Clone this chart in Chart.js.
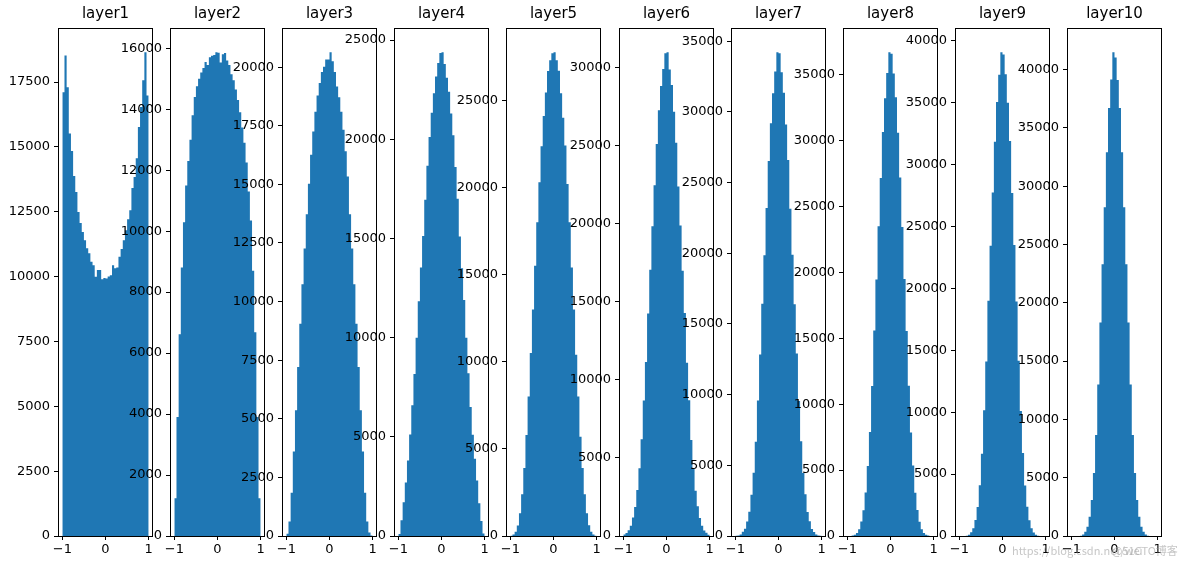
<!DOCTYPE html>
<html>
<head>
<meta charset="utf-8">
<title>layers</title>
<script src="https://cdn.jsdelivr.net/npm/chart.js@4.4.1/dist/chart.umd.min.js"></script>
<style>
  html, body { margin: 0; padding: 0; background: #fff; }
  #fig { position: relative; width: 1184px; height: 564px; overflow: hidden; background: #fff; }
  #fig canvas { position: absolute; top: 0; }
  .wm { position: absolute; top: 542px; font-family: 'Noto Sans CJK SC', 'DejaVu Sans', sans-serif; font-size: 11px; color: rgba(160, 160, 160, 0.6); white-space: nowrap; }
</style>
</head>
<body>
<div id="fig">
  <span class="wm" style="left: 1012px;">https://blog.csdn.net/wei</span>
  <span class="wm" style="left: 1112px;">@51CTO博客</span>
</div>
<script>
// histogram bins: 40 bins over [-1, 1]
const binStart = -1;
const binWidth = 0.05;
const binCount = 40;
const xTicks = [-1, 0, 1];

const layerTitles = ['layer1', 'layer2', 'layer3', 'layer4', 'layer5',
                     'layer6', 'layer7', 'layer8', 'layer9', 'layer10'];

// counts per bin
const layer1 = [17110, 18520, 17300, 15520, 14840, 13880, 13260, 12490, 12070, 11720,
                11400, 11090, 10900, 10570, 10440, 9990, 10250, 10250, 9900, 9950,
                9930, 10000, 10050, 10440, 10320, 10350, 10760, 11060, 11400, 11790,
                12210, 12560, 13410, 13840, 14560, 15770, 16540, 17570, 18650, 16980];
const layer2 = [1240, 3900, 6620, 8810, 10290, 11500, 12300, 13000, 13800, 14400,
                14750, 15000, 15200, 15350, 15550, 15450, 15700, 15750, 15780, 15870,
                15850, 15530, 15800, 15840, 15600, 15450, 15150, 14950, 14650, 14300,
                13900, 13400, 12900, 12250, 11300, 10350, 8700, 6680, 3900, 1240];
const layer3 = [100, 614, 1840, 3600, 5370, 7210, 9050, 10740, 12270, 13730,
                15030, 16260, 17260, 18100, 18790, 19330, 19790, 20020, 20330, 20330,
                20640, 20250, 19790, 19180, 18720, 18100, 17330, 16410, 15340, 13730,
                12270, 10740, 9050, 7210, 5370, 3600, 1840, 614, 150, 20];
const layer4 = [100, 800, 1700, 2700, 3800, 5120, 6590, 8170, 10000, 11830,
                13540, 15120, 16950, 18660, 20120, 21340, 22320, 23170, 23850, 24350,
                24390, 23800, 23100, 22400, 21300, 20200, 18600, 17000, 15100, 13500,
                11900, 10000, 8200, 6500, 5100, 3900, 2800, 1650, 750, 120];
const layer5 = [20, 80, 250, 600, 1300, 2400, 3900, 5800, 8000, 10500,
                13000, 15500, 18000, 20300, 22370, 24100, 25440, 26680, 27300, 27700,
                27760, 27300, 26700, 25400, 24000, 22400, 20200, 18000, 15400, 13000,
                10400, 8000, 5700, 3900, 2400, 1300, 620, 240, 80, 20];
const layer6 = [90, 200, 370, 650, 1180, 1860, 2950, 4340, 6200, 8680,
                11160, 14260, 17060, 19850, 22480, 25120, 27290, 28840, 29930, 30950,
                31010, 29900, 28900, 27200, 25200, 22400, 19900, 17000, 14300, 11100,
                8700, 6150, 4350, 2900, 1900, 1150, 660, 360, 210, 80];
const layer7 = [10, 30, 100, 300, 510, 1030, 1710, 2910, 4480, 6670,
                9580, 12830, 16430, 19850, 23200, 26520, 29190, 31310, 32850, 34220,
                34150, 32800, 31350, 29100, 26600, 23150, 19900, 16400, 12900, 9550,
                6700, 4450, 2950, 1700, 1050, 500, 290, 110, 30, 10];
const layer8 = [0, 0, 30, 100, 220, 510, 1100, 1950, 3300, 5320,
                7890, 11380, 15600, 19460, 23500, 27160, 30650, 33220, 35130, 36710,
                36600, 35100, 33300, 30600, 27200, 23450, 19500, 15550, 11400, 7850,
                5350, 3280, 1970, 1080, 520, 230, 90, 30, 0, 0];
const layer9 = [0, 0, 0, 30, 100, 300, 620, 1300, 2350, 4100,
                6650, 10150, 14100, 19000, 23450, 27750, 31850, 35050, 37250, 39080,
                38900, 37300, 35000, 31900, 27700, 23500, 18950, 14150, 10100, 6700,
                4080, 2370, 1280, 630, 290, 110, 30, 0, 0, 0];
const layer10 = [0, 0, 0, 5, 30, 120, 370, 800, 1660, 3090,
                 5400, 8670, 13000, 18300, 23300, 28200, 32900, 36700, 39140, 41490,
                 41030, 39100, 36700, 32900, 28200, 23300, 18300, 13000, 8670, 5400,
                 3090, 1660, 800, 370, 120, 30, 5, 0, 0, 0];

const layerCounts = [layer1, layer2, layer3, layer4, layer5, layer6, layer7, layer8, layer9, layer10];
const yTickSteps = [2500, 2000, 2500, 5000, 5000, 5000, 5000, 5000, 5000, 5000];

// subplot geometry in px
const axLeft0 = 58;
const axGap = 112.1;
const axWidth = 95;
const yAxisWidth = 56;
const figHeight = 564;

Chart.defaults.font.family = "'DejaVu Sans', sans-serif";
Chart.defaults.font.size = 13;
Chart.defaults.color = '#000';

// matplotlib-like box around each axes
const framePlugin = {
    id: 'frame',
    afterDraw(chart) {
        const { ctx, chartArea: a } = chart;
        ctx.save();
        ctx.strokeStyle = '#000';
        ctx.lineWidth = 1;
        ctx.strokeRect(a.left + 0.5, a.top + 0.5, a.right - a.left - 1, a.bottom - a.top);
        ctx.restore();
    }
};

function histPoints(counts) {
    const pts = counts.map((c, k) => ({ x: binStart + k * binWidth, y: c }));
    // closing edge of the last bin
    pts.push({ x: binStart + binCount * binWidth, y: counts[counts.length - 1] });
    return pts;
}

function fmtTick(v) {
    return v < 0 ? '\u2212' + Math.abs(v) : String(v);
}

const fig = document.getElementById('fig');
const wmNodes = Array.from(fig.querySelectorAll('.wm'));

layerCounts.forEach((counts, i) => {
    const canvas = document.createElement('canvas');
    const w = yAxisWidth + axWidth;
    canvas.width = w;
    canvas.height = figHeight;
    canvas.style.width = w + 'px';
    canvas.style.height = figHeight + 'px';
    canvas.style.left = (Math.round(axLeft0 + i * axGap) - yAxisWidth) + 'px';
    fig.insertBefore(canvas, wmNodes[0]);

    const yMax = Math.max(...counts) * 1.05;
    const step = yTickSteps[i];

    new Chart(canvas, {
        type: 'line',
        data: {
            datasets: [{
                data: histPoints(counts),
                stepped: true,
                fill: 'origin',
                backgroundColor: '#1f77b4',
                borderColor: 'rgba(0,0,0,0)',
                borderWidth: 0,
                pointRadius: 0,
                tension: 0
            }]
        },
        options: {
            responsive: false,
            animation: false,
            devicePixelRatio: 1,
            layout: { padding: 0 },
            plugins: {
                legend: { display: false },
                tooltip: { enabled: false },
                title: {
                    display: true,
                    fullSize: false,   // centre over the axes, not the canvas
                    text: layerTitles[i],
                    color: '#000',
                    font: { size: 15, weight: 'normal', lineHeight: 1.2 },
                    padding: { top: 5, bottom: 5 }
                }
            },
            scales: {
                x: {
                    type: 'linear',
                    min: -1.1,
                    max: 1.1,
                    border: { display: false },
                    grid: { display: true, drawOnChartArea: false, drawTicks: true, tickLength: 4, color: '#000' },
                    ticks: { padding: 2, maxRotation: 0, callback: v => fmtTick(v) },
                    afterBuildTicks: s => { s.ticks = xTicks.map(v => ({ value: v })); },
                    afterFit: s => { s.height = 28; s.paddingLeft = 0; s.paddingRight = 0; }
                },
                y: {
                    min: 0,
                    max: yMax,
                    border: { display: false },
                    grid: { display: true, drawOnChartArea: false, drawTicks: true, tickLength: 4, color: '#000' },
                    ticks: { padding: 4, callback: v => String(v) },
                    afterBuildTicks: s => {
                        const t = [];
                        for (let v = 0; v <= yMax; v += step) t.push({ value: v });
                        s.ticks = t;
                    },
                    afterFit: s => { s.width = yAxisWidth; }
                }
            }
        },
        plugins: [framePlugin]
    });
});
</script>
</body>
</html>
